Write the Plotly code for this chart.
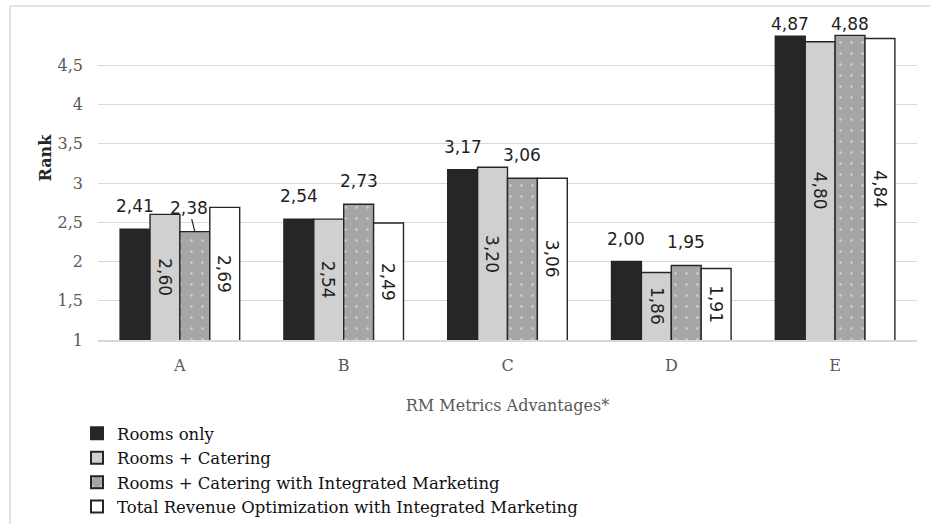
import plotly.graph_objects as go

categories = ["A", "B", "C", "D", "E"]
series_names = [
    "Rooms only",
    "Rooms + Catering",
    "Rooms + Catering with Integrated Marketing",
    "Total Revenue Optimization with Integrated Marketing",
]
rooms_only = [2.41, 2.54, 3.17, 2.00, 4.87]
rooms_catering = [2.60, 2.54, 3.20, 1.86, 4.80]
rooms_catering_im = [2.38, 2.73, 3.06, 1.95, 4.88]
total_rev_im = [2.69, 2.49, 3.06, 1.91, 4.84]
y_ticks = [1, 1.5, 2, 2.5, 3, 3.5, 4, 4.5]

def fmt(v):
    return f"{v:.2f}".replace(".", ",")

W, H = 930, 524
ML, MR, MT, MB = 98, 13, 26, 184
PW, PH = W - ML - MR, H - MT - MB
BARGAP = 0.27
YMIN, YMAX = 1, 5.0
N_SERIES = 4
PX_PER_UNIT = PH / (YMAX - YMIN)
LABEL_GAP = 23      # px between bar top and centre of an outside label
LABEL_MIN_Y = 24    # labels cannot go above this pixel row

LABEL_FONT = dict(family="DejaVu Sans", size=17, color="#1f1f1f")
SERIF = "DejaVu Serif"
EDGE = dict(color="#262626", width=1.4)

fig = go.Figure()
fig.add_trace(go.Bar(
    name=series_names[0], x=categories, y=rooms_only,
    marker=dict(color="#262626", line=EDGE),
))
fig.add_trace(go.Bar(
    name=series_names[1], x=categories, y=rooms_catering,
    marker=dict(color="#d0d0d0", line=EDGE),
))
fig.add_trace(go.Bar(
    name=series_names[2], x=categories, y=rooms_catering_im,
    marker=dict(color="#a6a6a6", line=EDGE,
                pattern=dict(shape=".", fgcolor="white", size=11,
                             solidity=0.04, fillmode="overlay")),
))
fig.add_trace(go.Bar(
    name=series_names[3], x=categories, y=total_rev_im,
    marker=dict(color="#ffffff", line=EDGE),
))

bar_w_units = (1 - BARGAP) / N_SERIES

def bar_center(cat_idx, series_idx):
    return cat_idx + (series_idx - (N_SERIES - 1) / 2) * bar_w_units

def outside_shift(v):
    top_px = MT + (YMAX - v) * PX_PER_UNIT
    return top_px - max(top_px - LABEL_GAP, LABEL_MIN_Y)

# labels above bars of series 0 and 2
for s_idx, vals in ((0, rooms_only), (2, rooms_catering_im)):
    for c_idx, v in enumerate(vals):
        if s_idx == 2 and c_idx == 0:
            continue
        fig.add_annotation(
            x=bar_center(c_idx, s_idx), y=v, xref="x", yref="y",
            text=fmt(v), showarrow=False, yanchor="middle",
            yshift=outside_shift(v), font=LABEL_FONT,
        )

# rotated labels centred inside bars of series 1 and 3
for s_idx, vals in ((1, rooms_catering), (3, total_rev_im)):
    for c_idx, v in enumerate(vals):
        fig.add_annotation(
            x=bar_center(c_idx, s_idx), y=(YMIN + v) / 2, xref="x", yref="y",
            text=fmt(v), textangle=90, showarrow=False, font=LABEL_FONT,
        )

# leader-line label for the displaced "2,38"
fig.add_annotation(
    x=bar_center(0, 2), y=rooms_catering_im[0], xref="x", yref="y",
    text=fmt(rooms_catering_im[0]), showarrow=True, arrowhead=0,
    arrowwidth=1.2, arrowcolor="#262626", ax=-6, ay=-24,
    font=LABEL_FONT, standoff=0,
)

# y-axis title
fig.add_annotation(
    text="Rank", textangle=-90, xref="paper", yref="paper",
    x=(33 - ML) / PW, y=(H - MB - 158) / PH, showarrow=False,
    font=dict(family=SERIF, size=16, color="#262626", weight="bold"),
)

# chart frame (top and left edges)
fx0 = (10 - ML) / PW
fy_top = (H - MB - 6) / PH
fy_bot = (H - MB - H) / PH
fx1 = (W - ML) / PW
fig.add_shape(type="line", xref="paper", yref="paper", x0=fx0, x1=fx1,
              y0=fy_top, y1=fy_top, line=dict(color="#d9d9d9", width=1.5))
fig.add_shape(type="line", xref="paper", yref="paper", x0=fx0, x1=fx0,
              y0=fy_top, y1=fy_bot, line=dict(color="#d9d9d9", width=1.5))

fig.update_layout(
    width=W, height=H,
    margin=dict(l=ML, r=MR, t=MT, b=MB, autoexpand=False),
    paper_bgcolor="white", plot_bgcolor="white",
    barmode="group", bargap=BARGAP, bargroupgap=0,
    separators=",.",
    font=dict(family=SERIF, color="#595959"),
    xaxis=dict(
        showline=True, linecolor="#d9d9d9", linewidth=1.5,
        showgrid=False, ticks="", ticklabelstandoff=10,
        tickfont=dict(family=SERIF, size=16, color="#595959"),
        title=dict(text="RM Metrics Advantages*", standoff=26,
                   font=dict(family=SERIF, size=16, color="#595959")),
    ),
    yaxis=dict(
        range=[YMIN, YMAX], tickvals=y_ticks,
        ticktext=[str(t).replace(".", ",") if t != int(t) else str(int(t)) for t in y_ticks],
        showgrid=True, gridcolor="#d9d9d9", gridwidth=1.3,
        zeroline=False, showline=False, ticks="",
        tickfont=dict(family=SERIF, size=16, color="#595959"), ticklabelstandoff=14,
    ),
    showlegend=True,
    legend=dict(
        orientation="v", x=(97 - 20 - ML) / PW, xanchor="left",
        y=(H - MB - 416) / PH, yanchor="top",
        font=dict(family=SERIF, size=16.5, color="#111111"),
        tracegroupgap=0, itemsizing="constant", bgcolor="rgba(0,0,0,0)",
    ),
)

fig.write_html("out.html")
